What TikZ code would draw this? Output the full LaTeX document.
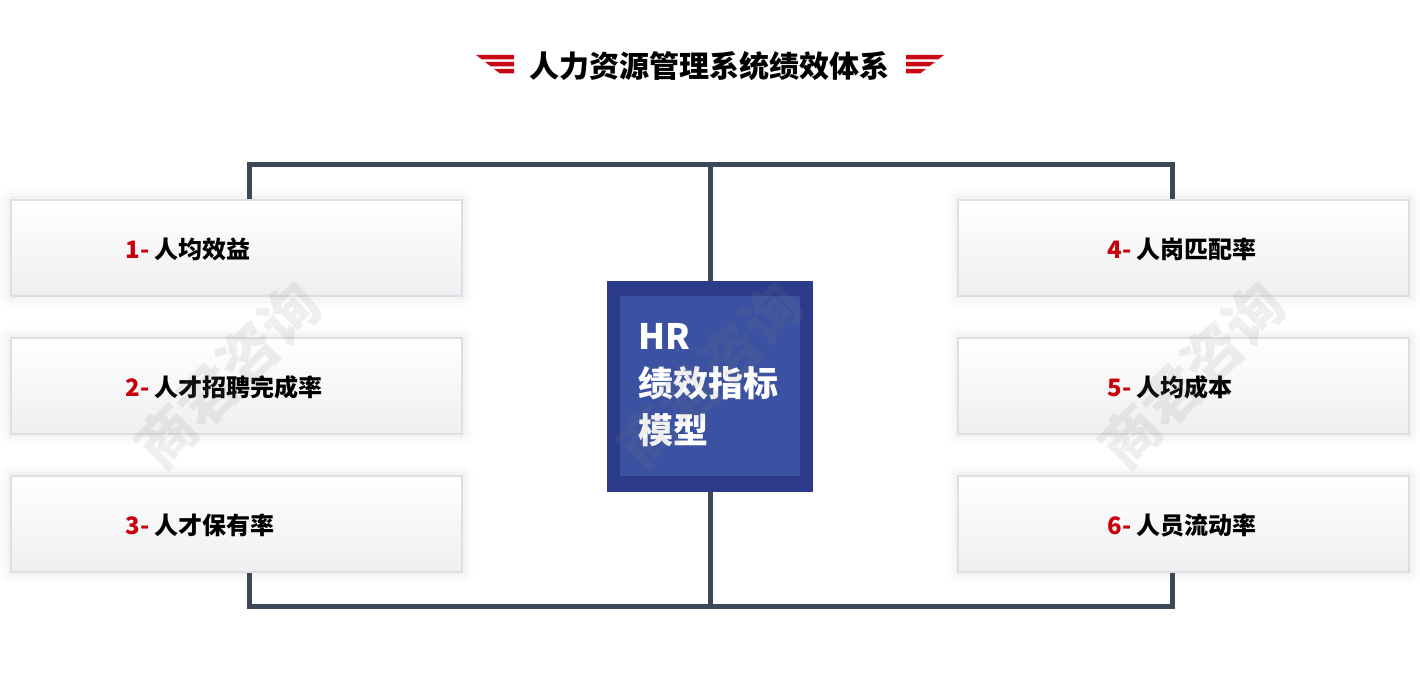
\documentclass[tikz,border=0pt]{standalone}
\usepackage{fontspec}
\setmainfont{Noto Sans CJK SC}

\definecolor{barcol}{RGB}{59,72,88}
\definecolor{boxline}{RGB}{222,222,228}
\definecolor{boxbot}{RGB}{239,239,241}
\definecolor{numred}{RGB}{200,0,12}
\definecolor{wingred}{RGB}{200,8,18}
\definecolor{hrouter}{RGB}{44,60,138}
\definecolor{hrinner}{RGB}{59,81,161}

\begin{document}
\begin{tikzpicture}[x=0.5pt, y=-0.5pt,
    kpi/.style={draw=boxline, line width=1pt, top color=white, bottom color=boxbot,
      minimum width=225.5pt, minimum height=48pt, inner sep=0pt,
      preaction={draw=black, opacity=0.012, line width=11pt, line join=round},
      preaction={draw=black, opacity=0.014, line width=7pt, line join=round},
      preaction={draw=black, opacity=0.018, line width=3.5pt, line join=round}},
    kpitext/.style={anchor=west, inner sep=0pt, text=black, font=\bfseries\fontsize{12}{14}\selectfont},
    bar/.style={draw=barcol, line width=2.5pt},
    wing/.style={fill=wingred},
    wmtext/.style={rotate=45, text=gray, opacity=0.13, font=\bfseries\fontsize{29}{30}\selectfont}]

  \useasboundingbox (0,0) rectangle (1420,678);

  % title
  \node[font=\bfseries\fontsize{15}{18}\selectfont, inner sep=0pt] (title) at (709,66) {人力资源管理系统绩效体系};
  \fill[wing] (476,55) -- (514,55) -- (514,59.5) -- (482,59.5) -- cycle;
  \fill[wing] (485,62) -- (514,62) -- (514,66.5) -- (491,66.5) -- cycle;
  \fill[wing] (494,69) -- (514,69) -- (514,73.5) -- (500,73.5) -- cycle;
  \fill[wing] (944,55) -- (906,55) -- (906,59.5) -- (938,59.5) -- cycle;
  \fill[wing] (935,62) -- (906,62) -- (906,66.5) -- (929,66.5) -- cycle;
  \fill[wing] (926,69) -- (906,69) -- (906,73.5) -- (920,73.5) -- cycle;

  % kpi boxes
  \node[kpi] (k1) at (236.5,248) {};
  \node[kpi] (k2) at (236.5,386) {};
  \node[kpi] (k3) at (236.5,524) {};
  \node[kpi] (k4) at (1183.5,248) {};
  \node[kpi] (k5) at (1183.5,386) {};
  \node[kpi] (k6) at (1183.5,524) {};

  \node[kpitext] (t1) at (125,249) {\textcolor{numred}{1-} 人均效益};
  \node[kpitext] (t2) at (125,387) {\textcolor{numred}{2-} 人才招聘完成率};
  \node[kpitext] (t3) at (125,525) {\textcolor{numred}{3-} 人才保有率};
  \node[kpitext] (t4) at (1107,249) {\textcolor{numred}{4-} 人岗匹配率};
  \node[kpitext] (t5) at (1107,387) {\textcolor{numred}{5-} 人均成本};
  \node[kpitext] (t6) at (1107,525) {\textcolor{numred}{6-} 人员流动率};

  % centre block
  \node[fill=hrouter, minimum width=103pt, minimum height=105.5pt, inner sep=0pt] (hrout) at (710,386.5) {};
  \node[fill=hrinner, minimum width=90pt, minimum height=90pt, inner sep=0pt] (hrin) at (710,386) {};
  \node[anchor=west, align=left, inner sep=0pt, text=white,
    font=\bfseries\fontsize{17.5}{23.5}\selectfont] (hrtxt) at (638,385) {HR\\绩效指标\\模型};

  % frame
  \coordinate (tl) at (249.5,164.5);
  \coordinate (tr) at (1172,164.5);
  \coordinate (bl) at (249.5,607);
  \coordinate (br) at (1172,607);
  \draw[bar] (k1.north -| tl) -- (tl) -- (tr) -- (k4.north -| tr);
  \draw[bar] (hrout.north) -- (hrout.north |- tl);
  \draw[bar] (k3.south -| bl) -- (bl) -- (br) -- (k6.south -| br);
  \draw[bar] (hrout.south) -- (hrout.south |- bl);

  % watermark
  \node[wmtext] (wm1) at (228,375) {商君咨询};
  \node[wmtext] (wm2) at (710,375) {商君咨询};
  \node[wmtext] (wm3) at (1192,375) {商君咨询};

\end{tikzpicture}
\end{document}
